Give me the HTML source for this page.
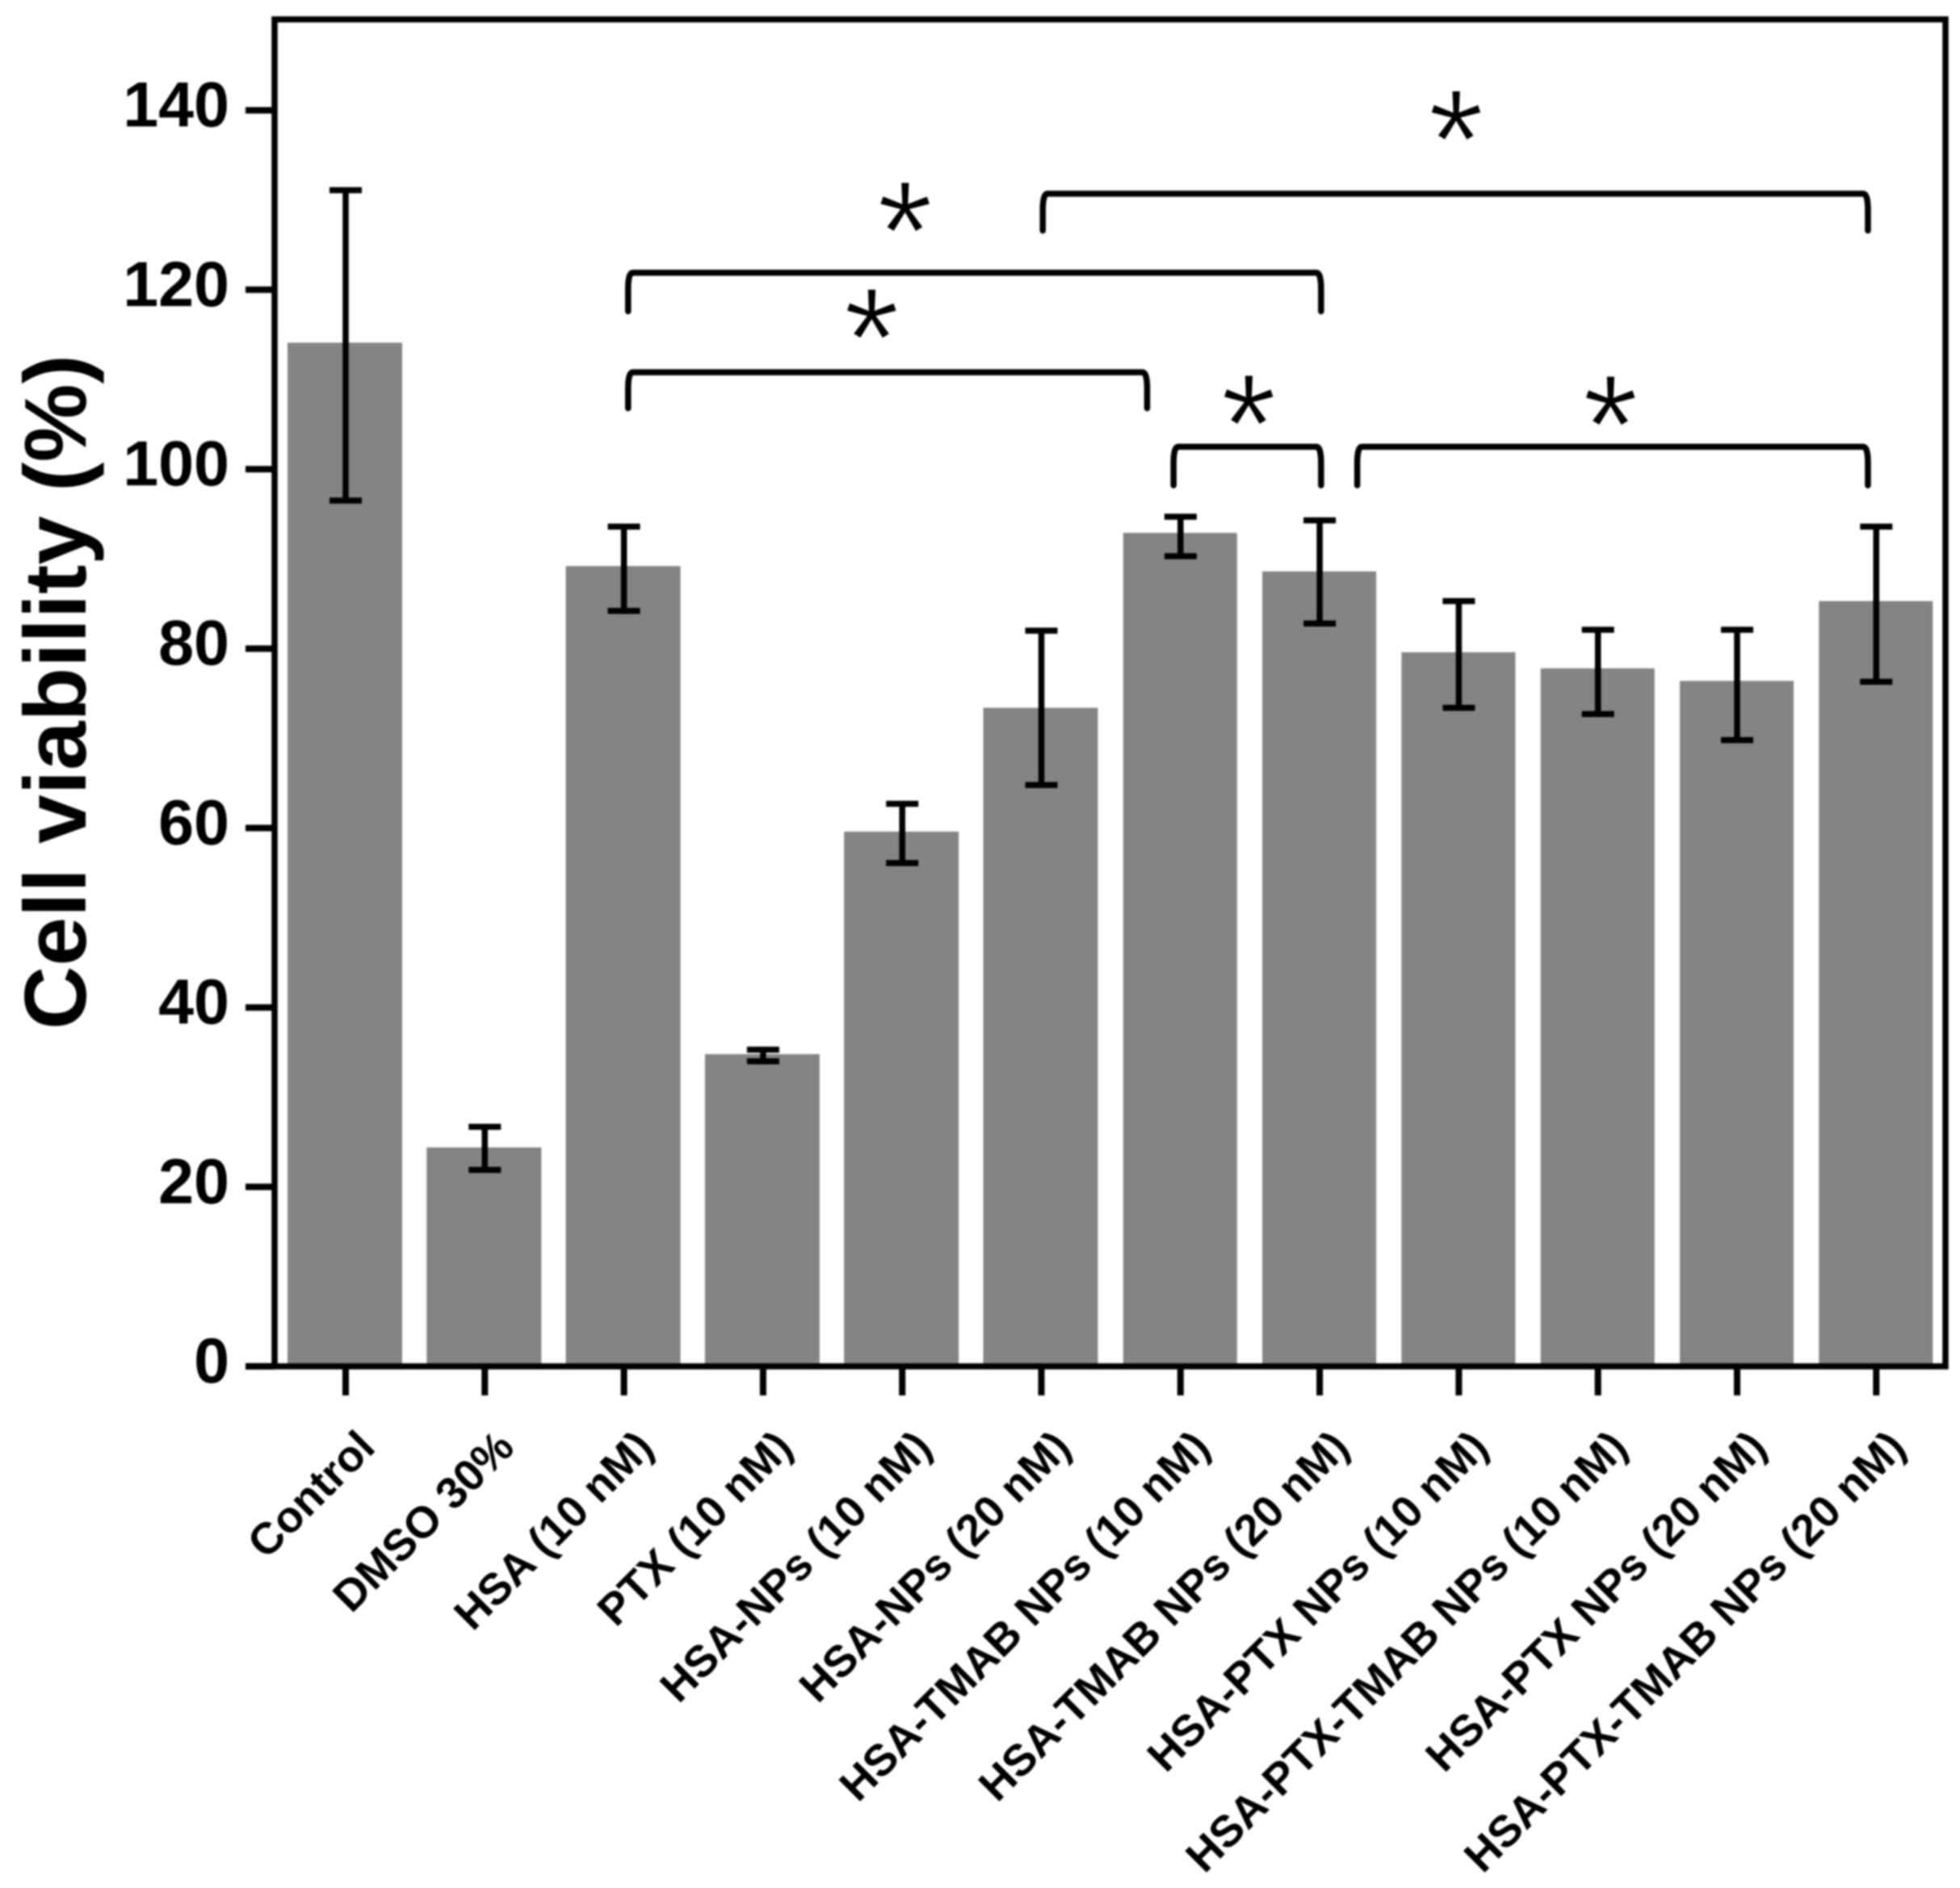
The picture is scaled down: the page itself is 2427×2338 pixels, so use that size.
<!DOCTYPE html>
<html>
<head>
<meta charset="utf-8">
<title>Cell viability bar chart</title>
<style>
html,body{margin:0;padding:0;background:#fff;}
svg{display:block;filter:blur(1.1px);}
text{font-family:"Liberation Sans",sans-serif;font-weight:bold;fill:#000;}
</style>
</head>
<body>
<svg id="chart" width="2427" height="2338" viewBox="0 0 2427 2338" xmlns="http://www.w3.org/2000/svg">
<rect x="0" y="0" width="2427" height="2338" fill="#ffffff"/>
<g id="bars"></g>
<g id="errors"></g>
<rect x="340" y="24" width="2069" height="1668" fill="none" stroke="#000" stroke-width="7.5"/>
<g id="yaxis"></g>
<g id="xaxis"></g>
<g id="brackets"></g>
<g id="stars"></g>
<text transform="translate(106,857) rotate(-90)" text-anchor="middle" font-size="109">Cell viability (%)</text>
</svg>
<script>
const categories = ["Control","DMSO 30%","HSA (10 nM)","PTX (10 nM)","HSA-NPs (10 nM)","HSA-NPs (20 nM)","HSA-TMAB NPs (10 nM)","HSA-TMAB NPs (20 nM)","HSA-PTX NPs (10 nM)","HSA-PTX-TMAB NPs (10 nM)","HSA-PTX NPs (20 nM)","HSA-PTX-TMAB NPs (20 nM)"];
const viability = [114.1,24.4,89.2,34.8,59.6,73.4,92.9,88.6,79.6,77.8,76.4,85.3];
const errorUpper = [131.1,26.7,93.6,35.3,62.7,82.0,94.7,94.3,85.3,82.1,82.1,93.6];
const errorLower = [96.5,21.9,84.2,34.0,56.1,64.8,90.3,82.8,73.4,72.7,69.8,76.3];
const yTicks = [0,20,40,60,80,100,120,140];
const bracketFrom = [5.01,2.03,2.03,5.95,7.27];
const bracketTo = [10.94,7.01,5.76,7.01,10.94];
const bracketTop = [130.7,121.9,110.8,102.5,102.5];
const bracketFoot = [126.6,117.6,106.8,98.2,98.2];
const starCategory = [7.98,4.02,3.78,6.49,9.09];
const starValue = [139.3,129.1,117.2,107.6,107.5];

const NS = "http://www.w3.org/2000/svg";
const xScale = function (i) { return 428 + 172.3 * i; };
const yScale = function (v) { return 1692 - 11.11 * v; };
function make(parent, tag, attrs, content) {
  const el = document.createElementNS(NS, tag);
  for (const k in attrs) el.setAttribute(k, attrs[k]);
  if (content !== undefined) el.textContent = content;
  parent.appendChild(el);
  return el;
}
const barsG = document.getElementById("bars");
const errorsG = document.getElementById("errors");
const yG = document.getElementById("yaxis");
const xG = document.getElementById("xaxis");
const brG = document.getElementById("brackets");
const stG = document.getElementById("stars");

categories.forEach(function (c, i) {
  const cx = xScale(i);
  const leftPad = i < 6 ? 72 : 71;
  const bar = make(barsG, "rect", {x: cx - leftPad, y: yScale(viability[i]), width: leftPad + 70, height: yScale(0) - yScale(viability[i]), fill: "#848484"});
  
  
  const top = yScale(errorUpper[i]), low = yScale(errorLower[i]);
  const err = make(errorsG, "path", {d: "M" + (cx - 20) + " " + top + "H" + (cx + 20) + "M" + cx + " " + top + "V" + low + "M" + (cx - 20) + " " + low + "H" + (cx + 20), fill: "none", stroke: "#000", "stroke-width": 7.5});
  
  
  const tick = make(xG, "line", {x1: cx, x2: cx, y1: 1692, y2: 1728, stroke: "#000", "stroke-width": 8});
  
  
  const label = make(xG, "text", {transform: "translate(" + (cx + 39) + ",1795) rotate(-45)", "text-anchor": "end", "font-size": 54.7}, c);
  
  
});

yTicks.forEach(function (t) {
  const y = yScale(t);
  const tick = make(yG, "line", {x1: 304, x2: 340, y1: y, y2: y, stroke: "#000", "stroke-width": 8});
  
  
  const label = make(yG, "text", {x: 284, y: y + 20, "text-anchor": "end", "font-size": 79}, String(t));
  
  
});

bracketFrom.forEach(function (f, i) {
  const x0 = xScale(f), x1 = xScale(bracketTo[i]), t = yScale(bracketTop[i]), b = yScale(bracketFoot[i]);
  const d = "M" + x0 + " " + b + "V" + (t + 20) + "Q" + x0 + " " + t + " " + (x0 + 6) + " " + t + "H" + (x1 - 6) + "Q" + x1 + " " + t + " " + x1 + " " + (t + 20) + "V" + b;
  const br = make(brG, "path", {d: d, fill: "none", stroke: "#000", "stroke-width": 7.5, "stroke-linecap": "round"});
  
  
});

starCategory.forEach(function (s, i) {
  const star = make(stG, "text", {x: xScale(s), y: yScale(starValue[i]) + 90, "text-anchor": "middle", "font-size": 178, stroke: "#fff", "stroke-width": 2.5, style: "font-weight:normal"}, "*");
  
  
});
</script>
</body>
</html>
